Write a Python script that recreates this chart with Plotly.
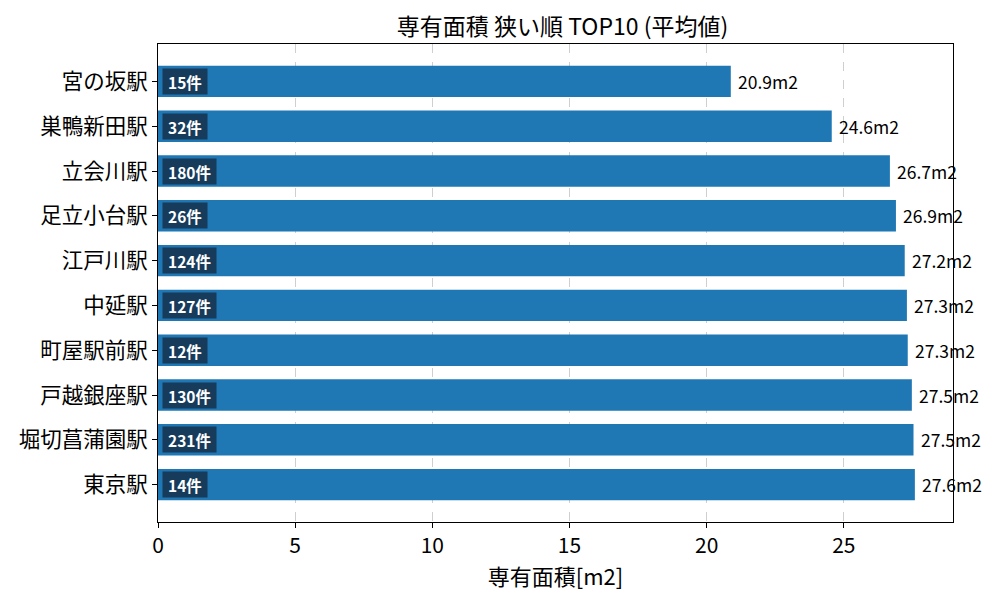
import plotly.graph_objects as go

# 専有面積 狭い順 TOP10
stations = ['宮の坂駅', '巣鴨新田駅', '立会川駅', '足立小台駅', '江戸川駅',
            '中延駅', '町屋駅前駅', '戸越銀座駅', '堀切菖蒲園駅', '東京駅']
avg_area = [20.88, 24.56, 26.68, 26.90, 27.22, 27.30, 27.33, 27.48, 27.54, 27.59]
counts = [15, 32, 180, 26, 124, 127, 12, 130, 231, 14]

FONT = 'Noto Sans CJK JP'

fig = go.Figure()
fig.add_trace(go.Bar(
    x=avg_area,
    y=stations,
    orientation='h',
    width=0.7,
    marker=dict(color='#1f77b4', line=dict(width=0)),
    hoverinfo='skip',
))

annotations = []
for st, v, c in zip(stations, avg_area, counts):
    # 値ラベル
    annotations.append(dict(
        x=v, y=st, xref='x', yref='y',
        text='%.1fm2' % v, showarrow=False,
        xanchor='left', xshift=5,
        font=dict(family=FONT, size=17.5, color='black'),
    ))
    # 件数バッジ
    annotations.append(dict(
        x=0, y=st, xref='x', yref='y',
        text='&nbsp;<b>%d件</b>&nbsp;' % c, showarrow=False,
        xanchor='left', xshift=4,
        bgcolor='#163b5b', borderpad=1.5,
        font=dict(family=FONT, size=15.5, color='white'),
    ))

# ページの余白(8px)ぶん小さくする
fig.update_layout(
    width=992, height=592,
    margin=dict(l=150, r=47, t=36, b=78),
    paper_bgcolor='white',
    plot_bgcolor='white',
    showlegend=False,
    title=dict(text='専有面積 狭い順 TOP10 (平均値)', x=0.559, xanchor='center',
               y=0.968, yanchor='middle',
               font=dict(family=FONT, size=23, color='black')),
    font=dict(family=FONT, color='black'),
    annotations=annotations,
    xaxis=dict(
        range=[0, 28.98],
        tickvals=[0, 5, 10, 15, 20, 25],
        showgrid=True, gridcolor='#cfcfcf', griddash='dash', gridwidth=1,
        zeroline=False, automargin=False,
        showline=True, linecolor='black', linewidth=1, mirror=True,
        ticks='outside', ticklen=5, tickcolor='black',
        tickfont=dict(family=FONT, size=21),
        title=dict(text='専有面積[m2]', font=dict(family=FONT, size=22), standoff=4),
    ),
    yaxis=dict(
        range=[9.835, -0.835],
        showgrid=False, zeroline=False, automargin=False,
        showline=True, linecolor='black', linewidth=1, mirror=True,
        ticks='outside', ticklen=5, tickcolor='black',
        tickfont=dict(family=FONT, size=21.5),
    ),
)

fig.write_html('out.html')
